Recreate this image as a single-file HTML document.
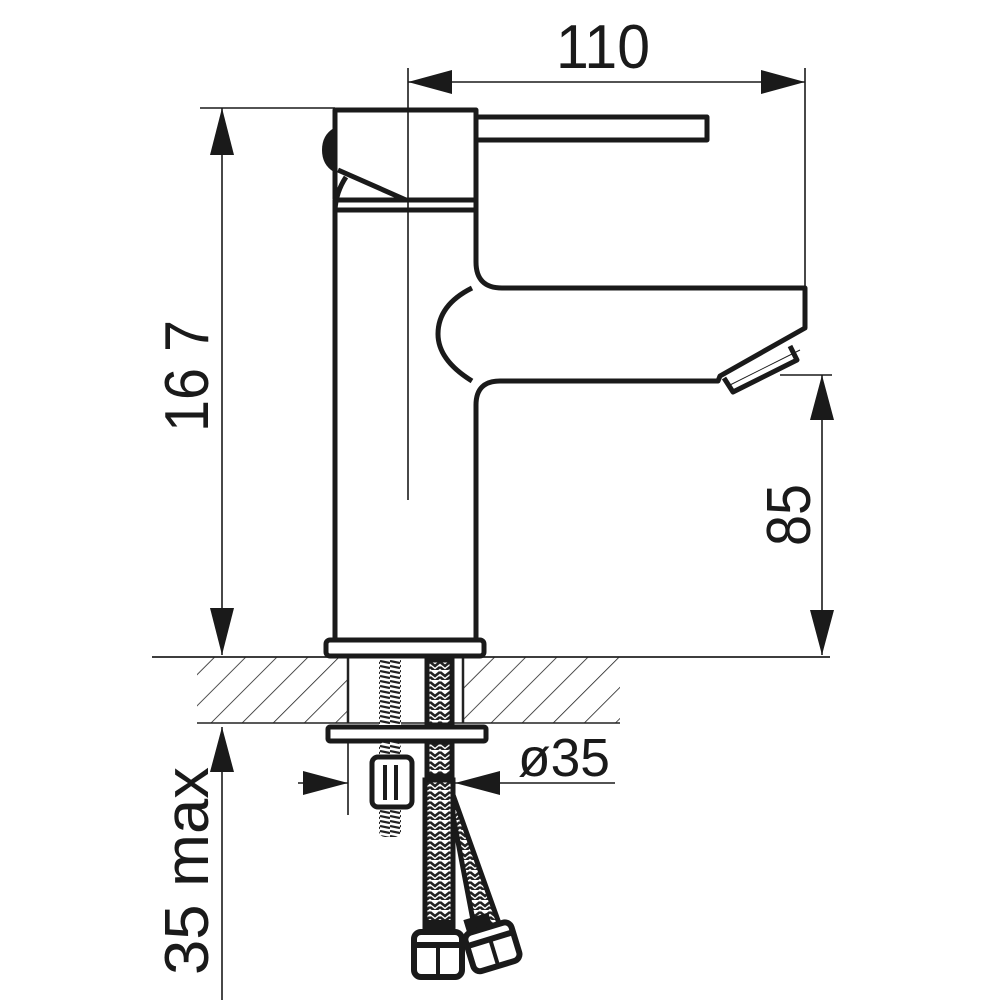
<!DOCTYPE html>
<html><head><style>
html,body{margin:0;padding:0;background:#fff;}
svg{display:block;}
text{font-family:"Liberation Sans Narrow","Liberation Sans",sans-serif;fill:#1a1a1a;}
</style></head><body>
<svg width="1000" height="1000" viewBox="0 0 1000 1000" xmlns="http://www.w3.org/2000/svg">
<defs>
<pattern id="hatch" width="22" height="22" patternUnits="userSpaceOnUse" patternTransform="rotate(45)">
<line x1="0" y1="0" x2="0" y2="22" stroke="#222" stroke-width="1.6"/>
</pattern>
<pattern id="braid" width="10" height="10" patternUnits="userSpaceOnUse">
<rect width="10" height="10" fill="#fff"/>
<path d="M0 2 L5 6 L10 2 M0 7 L5 11 L10 7" stroke="#222" stroke-width="2.6" fill="none"/>
</pattern>
<pattern id="thread" width="10" height="5" patternUnits="userSpaceOnUse">
<rect width="10" height="5" fill="#fff"/>
<line x1="0" y1="1" x2="10" y2="3" stroke="#222" stroke-width="2.2"/>
</pattern>
</defs>

<rect x="197" y="657" width="151" height="66" fill="url(#hatch)"/>
<rect x="463" y="657" width="157" height="66" fill="url(#hatch)"/>
<line x1="152" y1="657" x2="830" y2="657" stroke="#222" stroke-width="1.8"/>
<line x1="197" y1="723" x2="620" y2="723" stroke="#222" stroke-width="1.5"/>
<line x1="348" y1="657" x2="348" y2="723" stroke="#222" stroke-width="2.5"/>
<line x1="463" y1="657" x2="463" y2="723" stroke="#222" stroke-width="2.5"/>

<g fill="none" stroke="#1a1a1a" stroke-width="5" stroke-linejoin="round">
<path d="M335 199 L335 110 L476 110 L476 200 L406 200 L338 170"/>
<path d="M476 117 L707 117 L707 140 L476 140"/>
<path d="M346 177 Q336 192 335 210"/>
<rect x="335" y="200" width="141" height="10"/>
<path d="M335 210 L335 640"/>
<path d="M476 210 L476 262 Q476 288 502 288 L805 288 L805 328 L720 376 L718 381 L500 381 Q476 381 476 405 L476 640"/>
<path d="M472 288 Q438 305 438 334 Q438 360 472 381"/>
<path d="M724 378 L733 392 L797 360 L790 346"/>
<rect x="326" y="640" width="158" height="16" rx="4"/>
<rect x="328" y="727" width="158" height="14" rx="2"/>
</g>
<path d="M334 128 Q322 135 322 150 Q322 165 334 172 Z" fill="#1a1a1a"/>
<line x1="730" y1="385" x2="800" y2="350" stroke="#1a1a1a" stroke-width="1"/>

<rect x="379" y="660" width="22" height="65" fill="url(#thread)"/>
<rect x="379" y="742" width="22" height="95" rx="6" fill="url(#thread)"/>
<rect x="372" y="757" width="40" height="50" rx="6" fill="#fff" stroke="#1a1a1a" stroke-width="5"/>
<line x1="385" y1="765" x2="385" y2="800" stroke="#1a1a1a" stroke-width="4"/>
<line x1="396" y1="765" x2="396" y2="800" stroke="#1a1a1a" stroke-width="4"/>

<rect x="427" y="660" width="25" height="65" fill="url(#braid)" stroke="#1a1a1a" stroke-width="5"/>
<rect x="427" y="742" width="25" height="34" fill="url(#braid)" stroke="#1a1a1a" stroke-width="5"/>
<path d="M447 778 L500 926 L476 936 L450 800 Z" fill="url(#braid)" stroke="#1a1a1a" stroke-width="5"/>
<rect x="425" y="780" width="28" height="150" fill="url(#braid)" stroke="#1a1a1a" stroke-width="5"/>
<rect x="425" y="920" width="28" height="14" fill="#1a1a1a"/>
<rect x="414" y="932" width="48" height="45" rx="7" fill="#fff" stroke="#1a1a1a" stroke-width="6"/>
<line x1="438" y1="945" x2="438" y2="975" stroke="#1a1a1a" stroke-width="4"/>
<line x1="414" y1="945" x2="462" y2="945" stroke="#1a1a1a" stroke-width="6"/>
<g transform="rotate(-17 495 945)">
<rect x="472" y="912" width="26" height="16" fill="#1a1a1a"/>
<rect x="468" y="926" width="48" height="40" rx="7" fill="#fff" stroke="#1a1a1a" stroke-width="6"/>
<line x1="468" y1="938" x2="516" y2="938" stroke="#1a1a1a" stroke-width="6"/>
<line x1="492" y1="940" x2="492" y2="964" stroke="#1a1a1a" stroke-width="4"/>
</g>

<g stroke="#1a1a1a" stroke-width="1.6" fill="none">
<line x1="408" y1="68" x2="408" y2="500"/>
<line x1="805" y1="68" x2="805" y2="288"/>
<line x1="408" y1="82" x2="805" y2="82"/>
<line x1="200" y1="108" x2="335" y2="108"/>
<line x1="222" y1="108" x2="222" y2="655"/>
<line x1="222" y1="727" x2="222" y2="1000"/>
<line x1="780" y1="375" x2="832" y2="375"/>
<line x1="822" y1="375" x2="822" y2="655"/>
<line x1="348" y1="742" x2="348" y2="815"/>
<line x1="298" y1="783" x2="348" y2="783"/>
<line x1="455" y1="783" x2="615" y2="783"/>
</g>
<g fill="#1a1a1a">
<polygon points="408,82 452,70 452,94"/>
<polygon points="805,82 761,70 761,94"/>
<polygon points="222,108 210,155 234,155"/>
<polygon points="222,655 210,608 234,608"/>
<polygon points="222,727 210,772 234,772"/>
<polygon points="822,375 810,420 834,420"/>
<polygon points="822,655 810,610 834,610"/>
<polygon points="348,783 303,771 303,795"/>
<polygon points="455,783 500,771 500,795"/>
</g>

<text x="556" y="68" font-size="62" textLength="94" lengthAdjust="spacingAndGlyphs">110</text>
<text x="518" y="776" font-size="54" textLength="92" lengthAdjust="spacingAndGlyphs">ø35</text>
<text transform="translate(208 432) rotate(-90)" font-size="62" textLength="112" lengthAdjust="spacingAndGlyphs">16 7</text>
<text transform="translate(810 546) rotate(-90)" font-size="62" textLength="62" lengthAdjust="spacingAndGlyphs">85</text>
<text transform="translate(208 975) rotate(-90)" font-size="62" textLength="208" lengthAdjust="spacingAndGlyphs">35 max</text>
</svg>
</body></html>
